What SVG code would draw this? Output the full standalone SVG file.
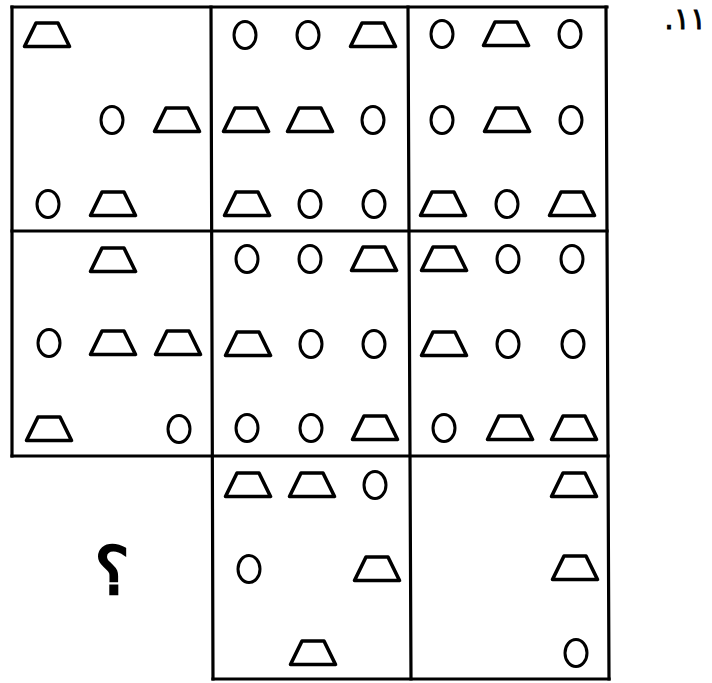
<svg xmlns="http://www.w3.org/2000/svg" xmlns:xlink="http://www.w3.org/1999/xlink" width="712" height="683" viewBox="0 0 712 683">
<style>
.ln{stroke:#000;stroke-width:3.2;fill:none;stroke-linecap:square}
.sh{stroke:#000;fill:#fff;stroke-linejoin:round}
.t{font-family:"DejaVu Sans","Noto Sans",sans-serif;fill:#000}
</style>
<defs>
<polygon id="T" class="sh" stroke-width="3.6" points="-11,-12 11,-12 22.5,11.5 -22.5,11.5"/>
<ellipse id="O" class="sh" stroke-width="3" rx="11" ry="13.5"/>
</defs>
<rect width="712" height="683" fill="#fff"/>
<g id="grid">
<line class="ln" x1="12" y1="7" x2="607" y2="7"/>
<line class="ln" x1="12" y1="231" x2="607" y2="231"/>
<line class="ln" x1="12" y1="456" x2="608" y2="456"/>
<line class="ln" x1="213" y1="679" x2="609" y2="679"/>
<line class="ln" x1="12" y1="7" x2="12" y2="456"/>
<line class="ln" x1="211" y1="7" x2="213" y2="679"/>
<line class="ln" x1="408" y1="7" x2="411" y2="679"/>
<line class="ln" x1="606" y1="7" x2="609" y2="679"/>
</g>
<g id="cell-1-1">
<use xlink:href="#T" x="47" y="35"/>
<use xlink:href="#O" x="112" y="120"/>
<use xlink:href="#T" x="177" y="120"/>
<use xlink:href="#O" x="48" y="204"/>
<use xlink:href="#T" x="113" y="204"/>
</g>
<g id="cell-1-2">
<use xlink:href="#O" x="245" y="35"/>
<use xlink:href="#O" x="308" y="35"/>
<use xlink:href="#T" x="373" y="35"/>
<use xlink:href="#T" x="246" y="120"/>
<use xlink:href="#T" x="310" y="120"/>
<use xlink:href="#O" x="373" y="120"/>
<use xlink:href="#T" x="247" y="204"/>
<use xlink:href="#O" x="310" y="204"/>
<use xlink:href="#O" x="374" y="204"/>
</g>
<g id="cell-1-3">
<use xlink:href="#O" x="442" y="34"/>
<use xlink:href="#T" x="506" y="34"/>
<use xlink:href="#O" x="570" y="34"/>
<use xlink:href="#O" x="442" y="120"/>
<use xlink:href="#T" x="507" y="120"/>
<use xlink:href="#O" x="571" y="120"/>
<use xlink:href="#T" x="443" y="204"/>
<use xlink:href="#O" x="507" y="204"/>
<use xlink:href="#T" x="572" y="204"/>
</g>
<g id="cell-2-1">
<use xlink:href="#T" x="113" y="260"/>
<use xlink:href="#O" x="49" y="343"/>
<use xlink:href="#T" x="113" y="343"/>
<use xlink:href="#T" x="178" y="343"/>
<use xlink:href="#T" x="49" y="429"/>
<use xlink:href="#O" x="179" y="429"/>
</g>
<g id="cell-2-2">
<use xlink:href="#O" x="247" y="259"/>
<use xlink:href="#O" x="310" y="259"/>
<use xlink:href="#T" x="374" y="259"/>
<use xlink:href="#T" x="248" y="344"/>
<use xlink:href="#O" x="311" y="344"/>
<use xlink:href="#O" x="374" y="344"/>
<use xlink:href="#O" x="247" y="428"/>
<use xlink:href="#O" x="311" y="428"/>
<use xlink:href="#T" x="375" y="428"/>
</g>
<g id="cell-2-3">
<use xlink:href="#T" x="444" y="259"/>
<use xlink:href="#O" x="508" y="259"/>
<use xlink:href="#O" x="572" y="259"/>
<use xlink:href="#T" x="444" y="344"/>
<use xlink:href="#O" x="508" y="344"/>
<use xlink:href="#O" x="573" y="344"/>
<use xlink:href="#O" x="444" y="428"/>
<use xlink:href="#T" x="510" y="428"/>
<use xlink:href="#T" x="574" y="428"/>
</g>
<g id="cell-3-1">
<text class="t" x="112" y="594" font-size="66" stroke="#000" stroke-width="2.5" text-anchor="middle">؟</text>
</g>
<g id="cell-3-2">
<use xlink:href="#T" x="248" y="485"/>
<use xlink:href="#T" x="312" y="485"/>
<use xlink:href="#O" x="375" y="485"/>
<use xlink:href="#O" x="249" y="569"/>
<use xlink:href="#T" x="377" y="569"/>
<use xlink:href="#T" x="313" y="653"/>
</g>
<g id="cell-3-3">
<use xlink:href="#T" x="574" y="485"/>
<use xlink:href="#T" x="575" y="568"/>
<use xlink:href="#O" x="576" y="653"/>
</g>
<g id="label">
<text class="t" x="706" y="29" font-size="30" stroke="#000" stroke-width="0.8" letter-spacing="3" text-anchor="end">.۱۱</text>
</g>
</svg>
